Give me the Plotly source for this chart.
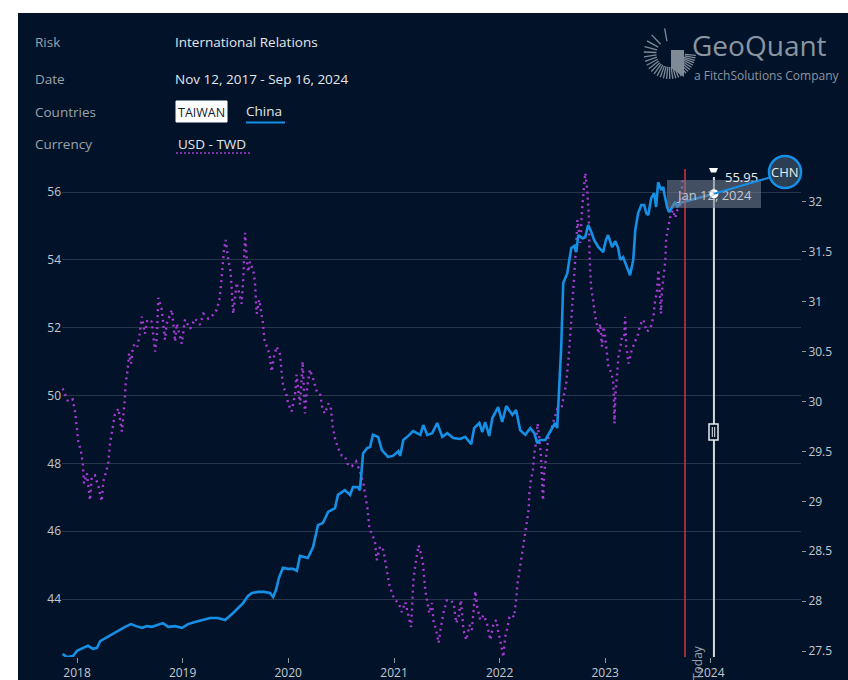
import math
import plotly.graph_objects as go

# ---------------- data ----------------
china_dates = [
    "2017-11-12", "2017-11-27", "2017-12-18", "2018-01-01", "2018-01-22", "2018-02-08", "2018-02-25", "2018-03-11", "2018-03-22", "2018-04-15",
    "2018-05-06", "2018-05-23", "2018-06-16", "2018-07-07", "2018-07-24", "2018-08-14", "2018-08-31", "2018-09-17", "2018-10-08", "2018-10-25",
    "2018-11-12", "2018-12-06", "2018-12-30", "2019-01-20", "2019-02-13", "2019-03-13", "2019-04-06", "2019-05-03", "2019-05-28", "2019-06-21",
    "2019-07-12", "2019-07-29", "2019-08-15", "2019-08-29", "2019-09-19", "2019-10-10", "2019-10-30", "2019-11-10", "2019-11-20", "2019-11-30",
    "2019-12-14", "2019-12-31", "2020-01-18", "2020-01-31", "2020-02-11", "2020-03-09", "2020-03-27", "2020-04-13", "2020-04-30", "2020-05-18",
    "2020-06-11", "2020-06-21", "2020-07-15", "2020-08-02", "2020-08-12", "2020-08-29", "2020-09-05", "2020-09-16", "2020-09-30", "2020-10-10",
    "2020-10-20", "2020-11-07", "2020-11-20", "2020-12-11", "2020-12-28", "2021-01-16", "2021-01-22", "2021-02-02", "2021-02-19", "2021-03-08",
    "2021-04-02", "2021-04-12", "2021-04-26", "2021-05-13", "2021-05-30", "2021-06-17", "2021-07-04", "2021-07-25", "2021-08-18", "2021-09-04",
    "2021-09-25", "2021-10-05", "2021-10-23", "2021-11-02", "2021-11-12", "2021-11-26", "2021-12-07", "2021-12-27", "2022-01-10", "2022-01-24",
    "2022-02-14", "2022-02-27", "2022-03-13", "2022-03-31", "2022-04-17", "2022-05-01", "2022-05-11", "2022-05-21", "2022-06-08", "2022-06-25",
    "2022-07-12", "2022-07-19", "2022-07-26", "2022-08-02", "2022-08-09", "2022-08-23", "2022-08-30", "2022-09-06", "2022-09-16", "2022-09-23",
    "2022-09-30", "2022-10-14", "2022-10-24", "2022-11-03", "2022-11-14", "2022-11-24", "2022-12-08", "2022-12-25", "2023-01-04", "2023-01-11",
    "2023-01-25", "2023-02-05", "2023-02-15", "2023-02-22", "2023-03-04", "2023-03-18", "2023-03-28", "2023-04-08", "2023-04-15", "2023-04-25",
    "2023-05-06", "2023-05-16", "2023-05-23", "2023-05-30", "2023-06-09", "2023-06-19", "2023-06-26", "2023-07-03", "2023-07-14", "2023-07-21",
    "2023-07-24", "2023-08-03", "2023-08-10", "2023-08-21", "2023-08-31", "2023-09-07", "2023-09-17", "2023-09-28", "2024-01-12",
]
china_values = [
    42.38, 42.29, 42.32, 42.47, 42.56, 42.62, 42.53, 42.56, 42.76, 42.88,
    43.00, 43.06, 43.18, 43.26, 43.20, 43.15, 43.20, 43.18, 43.23, 43.29,
    43.18, 43.20, 43.15, 43.26, 43.32, 43.38, 43.44, 43.44, 43.38, 43.56,
    43.74, 43.88, 44.09, 44.18, 44.21, 44.21, 44.18, 44.06, 44.27, 44.62,
    44.92, 44.89, 44.89, 44.83, 45.27, 45.21, 45.53, 46.18, 46.24, 46.57,
    46.68, 47.07, 47.21, 47.07, 47.30, 47.30, 47.21, 48.30, 48.45, 48.48,
    48.84, 48.78, 48.39, 48.19, 48.22, 48.36, 48.22, 48.69, 48.81, 48.95,
    48.84, 49.13, 48.84, 48.89, 49.19, 48.78, 48.89, 48.75, 48.72, 48.78,
    48.57, 49.04, 49.19, 48.92, 49.22, 48.81, 49.34, 49.66, 49.22, 49.69,
    49.43, 49.57, 48.98, 48.84, 49.04, 48.89, 48.60, 48.69, 48.69, 48.92,
    49.19, 49.04, 50.07, 51.43, 53.32, 53.61, 54.00, 54.35, 54.41, 54.23,
    54.73, 54.64, 54.67, 55.03, 54.82, 54.58, 54.38, 54.23, 54.60, 54.73,
    54.38, 54.55, 54.35, 54.00, 54.08, 53.79, 53.55, 54.00, 54.88, 55.38,
    55.62, 55.62, 55.38, 55.32, 55.82, 55.97, 55.56, 56.29, 56.06, 56.15,
    55.97, 55.56, 55.41, 55.56, 55.71, 55.56, 55.68, 55.71, 55.95,
]

twd_dates = [
    "2017-11-12", "2017-11-21", "2017-12-01", "2017-12-17", "2017-12-25", "2018-01-01", "2018-01-05", "2018-01-14", "2018-01-21", "2018-01-25",
    "2018-02-04", "2018-02-15", "2018-02-21", "2018-03-04", "2018-03-16", "2018-03-27", "2018-04-02", "2018-04-10", "2018-04-19", "2018-04-25",
    "2018-05-04", "2018-05-12", "2018-05-24", "2018-06-05", "2018-06-14", "2018-06-18", "2018-06-25", "2018-06-30", "2018-07-07", "2018-07-13",
    "2018-07-21", "2018-07-29", "2018-08-05", "2018-08-13", "2018-08-24", "2018-09-01", "2018-09-16", "2018-09-28", "2018-10-04", "2018-10-09",
    "2018-10-21", "2018-11-01", "2018-11-07", "2018-11-25", "2018-12-06", "2018-12-12", "2018-12-29", "2019-01-09", "2019-01-27", "2019-02-13",
    "2019-03-02", "2019-03-14", "2019-03-31", "2019-04-17", "2019-04-29", "2019-05-08", "2019-05-14", "2019-05-20", "2019-05-24", "2019-05-30",
    "2019-06-08", "2019-06-16", "2019-06-22", "2019-06-25", "2019-07-07", "2019-07-19", "2019-07-24", "2019-07-30", "2019-08-05", "2019-08-11",
    "2019-08-16", "2019-08-22", "2019-09-03", "2019-09-08", "2019-09-14", "2019-09-23", "2019-10-05", "2019-10-11", "2019-10-19", "2019-10-28",
    "2019-11-05", "2019-11-13", "2019-11-22", "2019-12-04", "2019-12-10", "2019-12-15", "2019-12-25", "2020-01-01", "2020-01-13", "2020-01-25",
    "2020-01-30", "2020-02-05", "2020-02-11", "2020-02-20", "2020-02-28", "2020-03-07", "2020-03-16", "2020-03-28", "2020-04-09", "2020-04-20",
    "2020-04-29", "2020-05-07", "2020-05-19", "2020-05-27", "2020-06-03", "2020-06-11", "2020-06-22", "2020-07-04", "2020-07-15", "2020-07-27",
    "2020-08-08", "2020-08-23", "2020-09-05", "2020-09-17", "2020-09-23", "2020-10-01", "2020-10-08", "2020-10-16", "2020-10-27", "2020-11-02",
    "2020-11-14", "2020-11-25", "2020-12-01", "2020-12-07", "2020-12-16", "2020-12-27", "2021-01-05", "2021-01-17", "2021-01-28", "2021-02-09",
    "2021-02-20", "2021-03-01", "2021-03-09", "2021-03-15", "2021-03-27", "2021-04-04", "2021-04-11", "2021-04-19", "2021-04-25", "2021-05-03",
    "2021-05-12", "2021-05-18", "2021-05-27", "2021-06-04", "2021-06-12", "2021-06-21", "2021-07-03", "2021-07-14", "2021-07-26", "2021-08-04",
    "2021-08-12", "2021-08-20", "2021-08-29", "2021-09-08", "2021-09-19", "2021-09-27", "2021-10-09", "2021-10-15", "2021-10-26", "2021-11-07",
    "2021-11-18", "2021-11-30", "2021-12-11", "2021-12-21", "2021-12-28", "2022-01-03", "2022-01-14", "2022-01-20", "2022-01-26", "2022-02-04",
    "2022-02-13", "2022-02-20", "2022-02-27", "2022-03-04", "2022-03-11", "2022-03-16", "2022-03-23", "2022-03-27", "2022-04-03", "2022-04-11",
    "2022-04-14", "2022-04-19", "2022-04-26", "2022-05-01", "2022-05-08", "2022-05-12", "2022-05-18", "2022-05-24", "2022-05-27", "2022-05-31",
    "2022-06-04", "2022-06-11", "2022-06-19", "2022-07-01", "2022-07-12", "2022-07-20", "2022-08-04", "2022-08-12", "2022-08-19", "2022-08-27",
    "2022-09-02", "2022-09-06", "2022-09-12", "2022-09-17", "2022-09-23", "2022-09-27", "2022-10-07", "2022-10-13", "2022-10-18", "2022-10-24",
    "2022-10-30", "2022-11-05", "2022-11-08", "2022-11-13", "2022-11-20", "2022-11-28", "2022-12-09", "2022-12-15", "2022-12-21", "2022-12-26",
    "2023-01-01", "2023-01-09", "2023-01-12", "2023-01-18", "2023-01-28", "2023-01-31", "2023-02-02", "2023-02-05", "2023-02-10", "2023-02-16",
    "2023-02-24", "2023-02-28", "2023-03-08", "2023-03-11", "2023-03-15", "2023-03-23", "2023-04-03", "2023-04-15", "2023-04-24", "2023-05-02",
    "2023-05-13", "2023-05-25", "2023-06-06", "2023-06-17", "2023-06-21", "2023-06-29", "2023-07-04", "2023-07-13", "2023-07-16", "2023-07-22",
    "2023-07-28", "2023-07-31", "2023-08-08", "2023-08-14", "2023-08-23", "2023-08-31", "2023-09-08", "2023-09-17", "2023-09-27",
]
twd_values = [
    30.13, 30.07, 30.00, 30.02, 29.90, 29.72, 29.60, 29.51, 29.38, 29.18,
    29.28, 29.01, 29.25, 29.26, 29.15, 29.00, 29.20, 29.28, 29.38, 29.58,
    29.75, 29.87, 29.93, 29.70, 29.98, 30.18, 30.32, 30.48, 30.38, 30.55,
    30.58, 30.55, 30.67, 30.85, 30.68, 30.82, 30.80, 30.50, 30.65, 31.04,
    30.92, 30.62, 30.78, 30.92, 30.60, 30.78, 30.58, 30.82, 30.73, 30.83,
    30.77, 30.88, 30.83, 30.87, 30.92, 31.02, 31.17, 31.35, 31.52, 31.62,
    31.42, 31.30, 31.07, 30.88, 31.19, 31.05, 30.98, 31.25, 31.69, 31.42,
    31.30, 31.40, 31.30, 31.20, 30.88, 31.02, 30.80, 30.62, 30.55, 30.48,
    30.30, 30.45, 30.55, 30.47, 30.27, 30.15, 30.08, 29.98, 29.90, 30.08,
    30.27, 30.08, 29.97, 30.40, 29.88, 30.15, 30.32, 30.22, 30.10, 30.08,
    29.92, 29.88, 29.98, 29.95, 29.75, 29.63, 29.53, 29.46, 29.45, 29.36,
    29.35, 29.40, 29.30, 29.18, 29.08, 28.93, 28.73, 28.68, 28.60, 28.41,
    28.55, 28.51, 28.41, 28.31, 28.16, 28.06, 28.01, 27.98, 27.89, 27.99,
    27.84, 27.74, 28.21, 28.35, 28.56, 28.48, 28.38, 28.11, 28.01, 27.88,
    27.98, 27.79, 27.71, 27.58, 27.74, 27.88, 28.01, 28.01, 27.98, 27.78,
    27.84, 28.01, 27.71, 27.61, 27.76, 27.71, 28.10, 27.95, 27.81, 27.86,
    27.78, 27.61, 27.78, 27.81, 27.68, 27.61, 27.44, 27.64, 27.71, 27.84,
    27.86, 27.84, 28.01, 28.18, 28.31, 28.41, 28.55, 28.65, 28.78, 28.91,
    29.08, 29.21, 29.31, 29.48, 29.61, 29.78, 29.65, 29.45, 29.25, 29.01,
    29.28, 29.48, 29.65, 29.75, 29.85, 29.93, 29.95, 30.08, 30.18, 30.42,
    30.62, 30.82, 31.09, 31.29, 31.59, 31.82, 31.59, 31.92, 32.12, 32.29,
    32.15, 31.89, 31.45, 31.15, 31.02, 30.85, 30.68, 30.78, 30.55, 30.75,
    30.65, 30.45, 30.35, 30.32, 30.22, 30.05, 29.78, 30.05, 30.28, 30.45,
    30.57, 30.65, 30.65, 30.85, 30.55, 30.38, 30.52, 30.60, 30.67, 30.77,
    30.82, 30.70, 30.73, 30.85, 30.98, 31.10, 31.32, 30.88, 31.10, 31.25,
    31.42, 31.64, 31.75, 31.85, 31.92, 31.84, 31.92, 31.95, 32.25,
]

x_tick_vals = ["2018-01-01", "2019-01-01", "2020-01-01", "2021-01-01", "2022-01-01", "2023-01-01", "2024-01-01"]
x_tick_text = ["2018", "2019", "2020", "2021", "2022", "2023", "2024"]
left_ticks = [44, 46, 48, 50, 52, 54, 56]
right_ticks = [27.5, 28, 28.5, 29, 29.5, 30, 30.5, 31, 31.5, 32]
today_date = "2023-10-04"
hover_date = "2024-01-12"
hover_label = "Jan 12, 2024"
hover_value = 55.95

# ---------------- layout helpers ----------------
W, H = 848, 680
ML, MR, MT, MB = 62, 47, 168, 23
PW, PH = W - ML - MR, H - MT - MB


def px(x):
    return (x - ML) / PW


def py(y):
    return (H - MB - y) / PH


BG = "#021329"
GRID = "#26354a"
TICK = "#c3c8cf"
BLUE = "#1590e6"
PURPLE = "#a53bd3"
FONT = "Open Sans"

fig = go.Figure()

fig.add_trace(go.Scatter(
    x=twd_dates, y=twd_values, yaxis="y", mode="lines",
    line=dict(color=PURPLE, width=2.4, dash="2px,4px"),
    hoverinfo="skip", showlegend=False,
))
fig.add_trace(go.Scatter(
    x=china_dates, y=china_values, yaxis="y2", mode="lines",
    line=dict(color=BLUE, width=2.6),
    hoverinfo="skip", showlegend=False,
))

shapes = []
annotations = []

# dark card background
shapes.append(dict(type="rect", xref="paper", yref="paper", layer="below",
                   x0=px(18), x1=px(W + 2), y0=py(13), y1=py(H + 2),
                   fillcolor=BG, line=dict(width=0)))


def label(x, y, text, color, size=13.5, anchor="left"):
    annotations.append(dict(xref="paper", yref="paper", x=px(x), y=py(y), text=text,
                            showarrow=False, xanchor=anchor, yanchor="middle",
                            font=dict(family=FONT, size=size, color=color)))


for yy, name in [(42, "Risk"), (79, "Date"), (112, "Countries"), (144, "Currency")]:
    label(33, yy, name, "#9ba2ab")
label(173, 42, "International Relations", "#e3e6ea")
label(173, 79, "Nov 12, 2017 - Sep 16, 2024", "#e3e6ea")

shapes.append(dict(type="rect", xref="paper", yref="paper", x0=px(176), x1=px(227), y0=py(122), y1=py(101),
                   fillcolor="#ffffff", line=dict(color="#ffffff", width=1)))
label(201.5, 112, "TAIWAN", "#0b1a2e", 12.5, "center")
label(244, 111, "China", "#e3e6ea")
shapes.append(dict(type="line", xref="paper", yref="paper", x0=px(246), x1=px(285), y0=py(122.5), y1=py(122.5),
                   line=dict(color=BLUE, width=2)))
label(176, 144, "USD - TWD", "#e3e6ea")
shapes.append(dict(type="line", xref="paper", yref="paper", x0=px(176), x1=px(251), y0=py(153), y1=py(153),
                   line=dict(color=PURPLE, width=1.5, dash="2px,2px")))

# GeoQuant logo
label(690, 45, "GeoQuant", "#8a95a2", 28)
label(692, 75, "a FitchSolutions Company", "#8a95a2", 12)
cx, cy = 669, 53
for k in range(30):
    t = k / 29
    ang = math.radians(100 + 255 * (t ** 0.6))
    r0, r1 = 12 + 4 * t, 25 + 2 * t
    shapes.append(dict(type="line", xref="paper", yref="paper",
                       x0=px(cx + r0 * math.cos(ang)), y0=py(cy - r0 * math.sin(ang)),
                       x1=px(cx + r1 * math.cos(ang)), y1=py(cy - r1 * math.sin(ang)),
                       line=dict(color="#7f8a97", width=1.3)))
shapes.append(dict(type="path", xref="paper", yref="paper",
                   path=f"M {px(671)} {py(50)} L {px(684)} {py(50)} L {px(684)} {py(77)} L {px(671)} {py(68)} Z",
                   fillcolor="#7f8a97", line=dict(width=0)))

# today line
shapes.append(dict(type="line", xref="x", yref="paper", x0=today_date, x1=today_date, y0=0, y1=py(169),
                   line=dict(color="#c9303b", width=1.6)))
annotations.append(dict(xref="x", yref="paper", x=today_date, xshift=12, y=py(663), text="Today",
                        textangle=-90, showarrow=False, xanchor="center", yanchor="middle",
                        font=dict(family=FONT, size=12, color="#9aa1aa")))

# hover spike line
shapes.append(dict(type="line", xref="x", yref="paper", x0=hover_date, x1=hover_date, y0=0, y1=py(177),
                   line=dict(color="#d4d8dd", width=2)))
shapes.append(dict(type="path", xref="paper", yref="paper",
                   path=f"M {px(709)} {py(168)} L {px(718)} {py(168)} L {px(716)} {py(172.5)} L {px(711)} {py(172.5)} Z",
                   fillcolor="#ffffff", line=dict(width=0)))
shapes.append(dict(type="rect", xref="paper", yref="paper", x0=px(709), x1=px(718), y0=py(440), y1=py(424),
                   fillcolor=BG, line=dict(color="#e8ebee", width=1.5)))
for xx in (712.3, 714.7):
    shapes.append(dict(type="line", xref="paper", yref="paper", x0=px(xx), x1=px(xx), y0=py(437), y1=py(427),
                       line=dict(color="#e8ebee", width=1)))

# tooltip box
shapes.append(dict(type="rect", xref="paper", yref="paper", x0=px(667), x1=px(761), y0=py(208), y1=py(180),
                   fillcolor="rgba(120,130,145,0.55)", line=dict(width=0)))
annotations.append(dict(xref="paper", yref="paper", x=px(714), y=py(194.5), text=hover_label,
                        showarrow=False, xanchor="center", yanchor="middle",
                        font=dict(family=FONT, size=13, color="#c4c9d0")))

# hover point
shapes.append(dict(type="circle", xref="x", yref="y2", xsizemode="pixel", ysizemode="pixel",
                   xanchor=hover_date, yanchor=hover_value, x0=-4.5, x1=4.5, y0=-4.5, y1=4.5,
                   fillcolor="#ffffff", line=dict(width=0)))
annotations.append(dict(xref="x", yref="y2", x=hover_date, y=hover_value, xshift=9, yshift=17,
                        text=f"{hover_value:.2f}", showarrow=False, xanchor="left", yanchor="middle",
                        font=dict(family=FONT, size=13, color="#e8ebee")))

# CHN badge with connector
annotations.append(dict(xref="x", yref="y2", x=hover_date, y=hover_value, text="",
                        showarrow=True, arrowhead=0, arrowwidth=2, arrowcolor=BLUE,
                        ax=58, ay=-17, axref="pixel", ayref="pixel"))
shapes.append(dict(type="circle", xref="paper", yref="paper", x0=px(769), x1=px(801), y0=py(188), y1=py(156),
                   fillcolor="#2b3e54", line=dict(color=BLUE, width=2.5)))
label(785, 172, "CHN", "#e8ebee", 13, "center")

fig.update_layout(
    width=W, height=H,
    margin=dict(l=ML, r=MR, t=MT, b=MB, pad=0, autoexpand=False),
    paper_bgcolor="#ffffff", plot_bgcolor="rgba(0,0,0,0)",
    font=dict(family=FONT, color=TICK, size=12),
    showlegend=False,
    shapes=shapes, annotations=annotations,
    xaxis=dict(type="date", range=["2017-11-10", "2024-11-08"], tickvals=x_tick_vals, ticktext=x_tick_text,
               ticks="outside", ticklen=5, tickwidth=1, tickcolor="#8d959f", showgrid=False, automargin=False,
               zeroline=False, showline=False, tickfont=dict(size=12, color=TICK)),
    yaxis=dict(side="right", range=[27.44, 32.34], tickvals=right_ticks, showgrid=False, zeroline=False,
               automargin=False,
               ticks="outside", ticklen=4, tickcolor="#8d959f", tickfont=dict(size=12, color=TICK)),
    yaxis2=dict(side="left", overlaying="y", range=[42.29, 56.71], tickvals=left_ticks, showgrid=True,
                automargin=False,
                gridcolor=GRID, gridwidth=1, zeroline=False, ticks="", tickfont=dict(size=12, color=TICK)),
)

fig.write_html("out.html", config={"displayModeBar": False},
               post_script="document.body.style.margin='0';document.body.style.overflow='hidden';")
